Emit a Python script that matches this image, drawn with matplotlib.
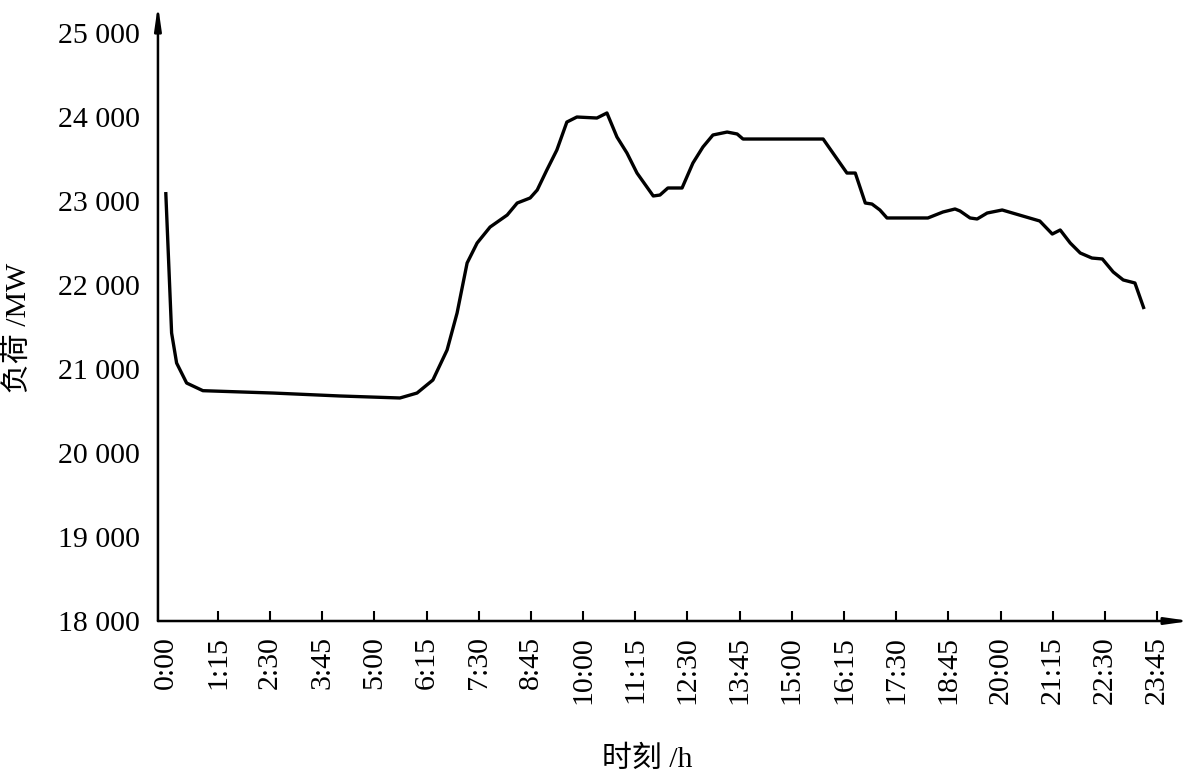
import matplotlib
matplotlib.use("Agg")
import matplotlib.pyplot as plt
from matplotlib.ticker import FuncFormatter

plt.rcParams['font.family'] = ['Liberation Serif', 'Noto Sans CJK SC']

# load curve vertices (time in hours, load in MW)
hours = [0.00, 0.14, 0.26, 0.50, 0.89, 2.57, 4.17, 5.61, 6.02, 6.40,
         6.74, 6.98, 7.22, 7.46, 7.77, 8.18, 8.42, 8.73, 8.90, 9.13,
         9.37, 9.61, 9.85, 10.33, 10.57, 10.81, 11.05, 11.29, 11.68, 11.84,
         12.03, 12.37, 12.63, 12.87, 13.11, 13.45, 13.69, 13.83, 15.75, 16.32,
         16.52, 16.76, 16.92, 17.11, 17.28, 18.26, 18.62, 18.91, 19.03, 19.27,
         19.44, 19.68, 20.04, 20.94, 21.24, 21.43, 21.67, 21.91, 22.19, 22.44,
         22.70, 22.94, 23.22, 23.44]
load = [23107, 21429, 21071, 20833, 20742, 20714, 20679, 20655, 20714, 20869,
        21226, 21667, 22262, 22500, 22690, 22833, 22976, 23036, 23131, 23369,
        23607, 23940, 24000, 23988, 24048, 23762, 23571, 23333, 23060, 23071,
        23155, 23155, 23452, 23643, 23786, 23821, 23798, 23738, 23738, 23333,
        23333, 22976, 22964, 22893, 22798, 22798, 22869, 22905, 22881, 22798,
        22786, 22857, 22893, 22762, 22607, 22655, 22500, 22381, 22321, 22310,
        22155, 22060, 22024, 21714]

tick_hours = [i * 1.25 for i in range(20)]
tick_labels = ["%d:%02d" % (int(t), round((t % 1) * 60)) for t in tick_hours]
y_ticks = [18000, 19000, 20000, 21000, 22000, 23000, 24000, 25000]

fig = plt.figure(figsize=(11.93, 7.75), dpi=100)
ax = fig.add_axes([0.1324, 0.1987, 0.8651, 0.7948])

ax.plot(hours, load, color='black', lw=2.4, solid_joinstyle='round',
        solid_capstyle='butt')

ax.set_xlim(-0.187, 24.54)
ax.set_ylim(18000, 25333)

for s in ax.spines.values():
    s.set_visible(False)

# axes with arrow heads
arrow = dict(arrowstyle='-|>,head_length=1.4,head_width=0.2', color='black',
             lw=1.8, shrinkA=0, shrinkB=0)
ax.annotate('', xy=(1, 0), xytext=(0, 0), xycoords='axes fraction',
            arrowprops=arrow)
ax.annotate('', xy=(0, 1), xytext=(0, 0), xycoords='axes fraction',
            arrowprops=arrow)

ax.set_xticks(tick_hours)
ax.set_xticklabels(tick_labels, rotation=90, fontsize=21.5)
ax.tick_params(axis='x', direction='in', length=7, width=1.5, pad=11)
ax.xaxis.get_major_ticks()[0].tick1line.set_visible(False)
ax.set_yticks(y_ticks)
ax.yaxis.set_major_formatter(FuncFormatter(lambda v, p: "%d %03d" % (v // 1000, v % 1000)))
ax.tick_params(axis='y', length=0, labelsize=21.5, pad=13)

fig.text(647 / 1193, 1 - 759 / 775, "时刻 /h", fontsize=21.5, ha='center', va='center')
fig.text(18 / 1193, 1 - 328 / 775, "负荷 /MW", fontsize=21.5, ha='center', va='center',
         rotation=90)

fig.savefig("out.png", dpi=100)
